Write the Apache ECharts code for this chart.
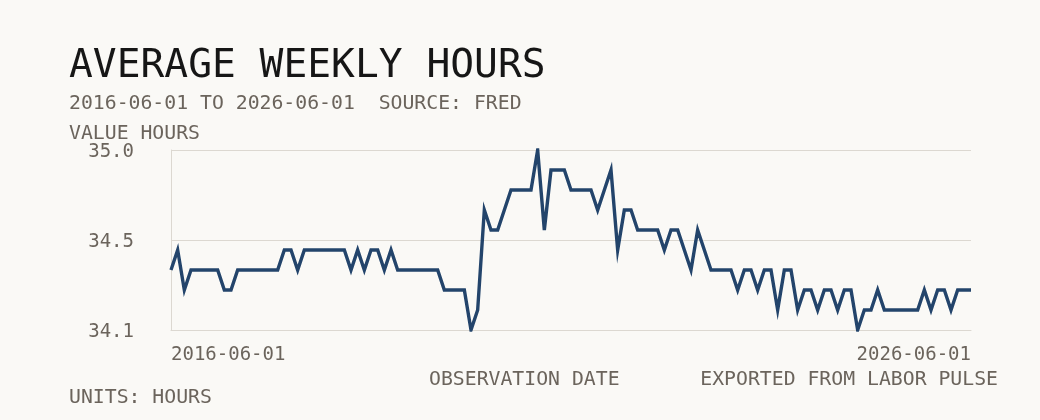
<!DOCTYPE html>
<html>
<head>
<meta charset="utf-8">
<script src="https://cdn.jsdelivr.net/npm/echarts@6/dist/echarts.min.js"></script>
<style>
html,body{margin:0;padding:0;background:#faf9f6;}
#chart{width:1040px;height:420px;}
</style>
</head>
<body>
<div id="chart"></div>
<script>
// Monthly observations, 2016-06-01 .. 2026-06-01 (121 months)
var startYear = 2016, startMonth = 6, monthCount = 121;
var hoursValues = [
  34.4, 34.5, 34.3, 34.4, 34.4, 34.4, 34.4, 34.4, 34.3, 34.3,
  34.4, 34.4, 34.4, 34.4, 34.4, 34.4, 34.4, 34.5, 34.5, 34.4,
  34.5, 34.5, 34.5, 34.5, 34.5, 34.5, 34.5, 34.4, 34.5, 34.4,
  34.5, 34.5, 34.4, 34.5, 34.4, 34.4, 34.4, 34.4, 34.4, 34.4,
  34.4, 34.3, 34.3, 34.3, 34.3, 34.1, 34.2, 34.7, 34.6, 34.6,
  34.7, 34.8, 34.8, 34.8, 34.8, 35.0, 34.6, 34.9, 34.9, 34.9,
  34.8, 34.8, 34.8, 34.8, 34.7, 34.8, 34.9, 34.5, 34.7, 34.7,
  34.6, 34.6, 34.6, 34.6, 34.5, 34.6, 34.6, 34.5, 34.4, 34.6,
  34.5, 34.4, 34.4, 34.4, 34.4, 34.3, 34.4, 34.4, 34.3, 34.4,
  34.4, 34.2, 34.4, 34.4, 34.2, 34.3, 34.3, 34.2, 34.3, 34.3,
  34.2, 34.3, 34.3, 34.1, 34.2, 34.2, 34.3, 34.2, 34.2, 34.2,
  34.2, 34.2, 34.2, 34.3, 34.2, 34.3, 34.3, 34.2, 34.3, 34.3,
  34.3
];
var yMin = 34.1, yMax = 35.0;
var yTickLabels = ['34.1', '34.5', '35.0'];

var dateCategories = [];
for (var i = 0; i < monthCount; i++) {
  var m = startMonth - 1 + i;
  var y = startYear + Math.floor(m / 12);
  var mm = (m % 12) + 1;
  dateCategories.push(y + '-' + (mm < 10 ? '0' + mm : mm) + '-01');
}
var xData = dateCategories.map(function (d, i) {
  if (i === 0) return { value: d, textStyle: { align: 'left' } };
  if (i === dateCategories.length - 1) return { value: d, textStyle: { align: 'right' } };
  return d;
});

var FONT = '"DejaVu Sans Mono", "Liberation Mono", monospace';
var TXT = '#6b645c';
var GRID = '#dcd8d1';

var chart = echarts.init(document.getElementById('chart'), null, { renderer: 'canvas' });
chart.setOption({
  backgroundColor: '#faf9f6',
  animation: false,
  grid: { left: 171, right: 69, top: 150, bottom: 90, containLabel: false },
  xAxis: {
    type: 'category',
    data: xData,
    boundaryGap: false,
    axisLine: { show: true, lineStyle: { color: GRID, width: 1 } },
    axisTick: { show: false },
    splitLine: { show: false },
    axisLabel: {
      interval: function (idx) { return idx === 0 || idx === monthCount - 1; },
      margin: 16,
      fontFamily: FONT,
      fontSize: 19,
      color: TXT
    }
  },
  yAxis: [
    {
      type: 'value', min: yMin, max: yMax, show: false,
      splitLine: { show: false }
    },
    {
      type: 'value', position: 'left', min: 0, max: yTickLabels.length - 1, interval: 1,
      axisLine: { show: true, lineStyle: { color: GRID, width: 1 } },
      axisTick: { show: false },
      splitLine: { show: true, lineStyle: { color: GRID, width: 1 } },
      axisLabel: {
        margin: 37,
        fontFamily: FONT,
        fontSize: 19,
        color: TXT,
        formatter: function (v) { return '{t|' + yTickLabels[Math.round(v)] + '}'; },
        rich: {
          t: { fontFamily: FONT, fontSize: 19, color: TXT, padding: [4, 0, 0, 0] }
        }
      }
    }
  ],
  series: [{
    type: 'line',
    yAxisIndex: 0,
    data: hoursValues,
    showSymbol: false,
    symbol: 'none',
    lineStyle: { color: '#23446b', width: 3.4, join: 'miter' },
    itemStyle: { color: '#23446b' },
    z: 5
  }],
  graphic: [
    { type: 'text', left: 69, top: 47, style: { text: 'AVERAGE WEEKLY HOURS', font: '39.6px ' + FONT, fill: '#161616' } },
    { type: 'text', left: 69, top: 94, style: { text: '2016-06-01 TO 2026-06-01  SOURCE: FRED', font: '19.8px ' + FONT, fill: TXT } },
    { type: 'text', left: 69, top: 124, style: { text: 'VALUE HOURS', font: '19.8px ' + FONT, fill: TXT } },
    { type: 'text', left: 429, top: 370, style: { text: 'OBSERVATION DATE', font: '19.8px ' + FONT, fill: TXT } },
    { type: 'text', right: 42, top: 370, style: { text: 'EXPORTED FROM LABOR PULSE', font: '19.8px ' + FONT, fill: TXT } },
    { type: 'text', left: 69, top: 388, style: { text: 'UNITS: HOURS', font: '19.8px ' + FONT, fill: TXT } }
  ]
});
</script>
</body>
</html>
